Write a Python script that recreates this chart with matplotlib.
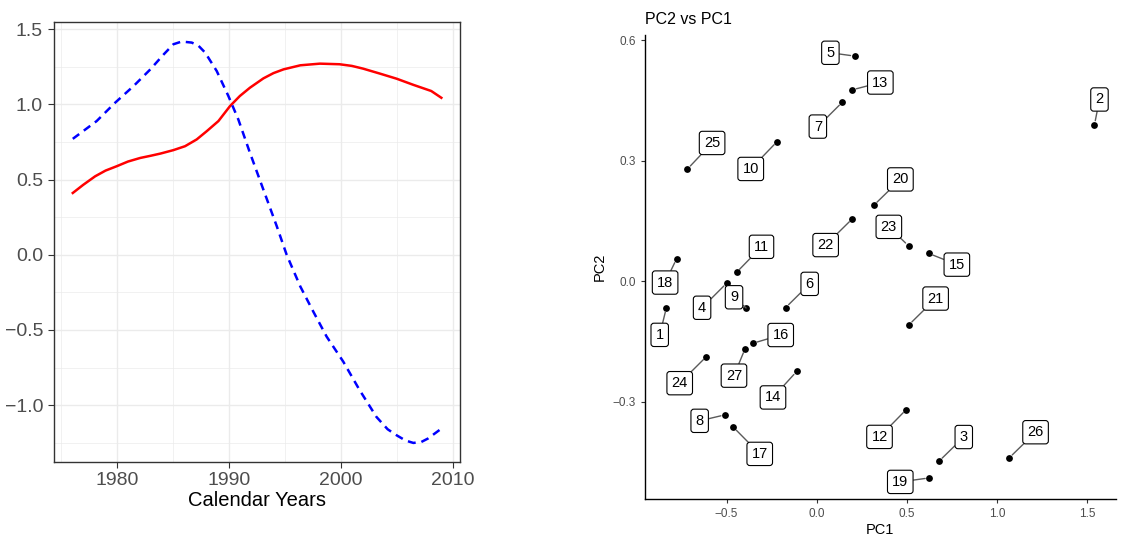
import matplotlib
matplotlib.use("Agg")
import matplotlib.pyplot as plt
from matplotlib.ticker import MultipleLocator

plt.rcParams["font.family"] = ["Liberation Sans", "DejaVu Sans"]

# ---- Left panel data ----
red_years = [1976.07, 1977.0, 1978.07, 1979.0, 1980.0, 1981.0, 1982.1, 1983.0, 1983.9,
             1985.06, 1986.1, 1987.14, 1988.04, 1989.08, 1990.12, 1991.0, 1991.9,
             1993.1, 1994.0, 1994.9, 1996.4, 1998.15, 1999.9, 2001.0, 2002.0, 2003.5,
             2005.0, 2006.5, 2008.1, 2009.0]
red_vals = [0.411, 0.465, 0.522, 0.560, 0.589, 0.620, 0.644, 0.658, 0.673,
            0.696, 0.722, 0.767, 0.822, 0.889, 0.989, 1.056, 1.111,
            1.173, 1.208, 1.233, 1.260, 1.271, 1.267, 1.256, 1.238, 1.205,
            1.171, 1.130, 1.089, 1.044]

blue_years = [1976.07, 1978.2, 1979.85, 1981.5, 1983.0, 1984.2, 1985.06, 1985.8, 1986.7,
              1987.3, 1987.9, 1988.93, 1989.97, 1990.86, 1991.9, 1993.1, 1994.3, 1995.18,
              1996.4, 1997.56, 1998.75, 2000.24, 2001.7, 2003.2, 2004.2, 2005.0, 2005.8,
              2006.5, 2007.2, 2007.8, 2009.0]
blue_vals = [0.771, 0.889, 1.011, 1.122, 1.233, 1.333, 1.400, 1.418, 1.411,
             1.390, 1.344, 1.222, 1.056, 0.900, 0.678, 0.433, 0.189, 0.000,
             -0.211, -0.378, -0.544, -0.711, -0.900, -1.078, -1.160, -1.200, -1.235,
             -1.251, -1.245, -1.222, -1.156]

# ---- Right panel data ----
pc_labels = [str(i) for i in range(1, 28)]
pc1 = [-0.834, 1.542, 0.680, -0.499, 0.211, -0.172, 0.142, -0.509, -0.392, -0.220,
       -0.445, 0.497, 0.198, -0.111, 0.621, -0.355, -0.462, -0.778, 0.625, 0.318,
       0.512, 0.198, 0.510, -0.612, -0.717, 1.069, -0.398]
pc2 = [-0.066, 0.389, -0.448, -0.005, 0.560, -0.066, 0.445, -0.333, -0.067, 0.347,
       0.0215, -0.320, 0.476, -0.225, 0.069, -0.155, -0.364, 0.055, -0.490, 0.189,
       -0.109, 0.155, 0.0876, -0.188, 0.279, -0.440, -0.169]

# label offsets (layout only, in pixels: dx right, dy up)
label_offsets = [(-6.7, -27.3), (5, 25.3), (24.6, 24), (-24.7, -24.7), (-24.3, 3.3),
                 (24, 23.7), (-24.4, -24.3), (-25.3, -6), (-12, 10.7), (-26.3, -27.3),
                 (25, 25.6), (-26.7, -27.3), (28, 7.3), (-23.7, -26), (28.3, -11.3),
                 (28, 8.3), (26.3, -26.6), (-11.4, -23.6), (-29, -4), (26.4, 25.7),
                 (26.7, 26.3), (-26.7, -26.3), (-19.7, 19), (-26.7, -26.6), (24.6, 26),
                 (26.3, 25.6), (-11, -26.7)]

fig = plt.figure(figsize=(11.27, 5.35), dpi=100)

# ---------- Left panel ----------
ax1 = fig.add_axes([0.0475, 0.1364, 0.3605, 0.8225])
ax1.plot(red_years, red_vals, color="red", lw=1.8, solid_joinstyle="round")
ax1.plot(blue_years, blue_vals, color="blue", lw=1.8, dashes=(3.2, 2.3),
         dash_joinstyle="round")
ax1.set_xlim(1974.35, 2010.65)
ax1.set_ylim(-1.378, 1.548)
ax1.xaxis.set_major_locator(MultipleLocator(10))
ax1.xaxis.set_minor_locator(MultipleLocator(5))
ax1.yaxis.set_major_locator(MultipleLocator(0.5))
ax1.yaxis.set_minor_locator(MultipleLocator(0.25))
ax1.grid(which="major", color="#EBEBEB", lw=1.0)
ax1.grid(which="minor", color="#EBEBEB", lw=0.5)
ax1.set_axisbelow(True)
for s in ax1.spines.values():
    s.set_color("#333333")
    s.set_linewidth(1.0)
ax1.tick_params(which="major", direction="out", length=4, width=0.8, color="#333333",
                labelsize=14, labelcolor="#4D4D4D")
ax1.tick_params(which="minor", length=0)
ax1.set_xlabel("Calendar Years", fontsize=14.5, color="black", labelpad=1)

# ---------- Right panel ----------
ax2 = fig.add_axes([0.5723, 0.0673, 0.4177, 0.8673])
ax2.scatter(pc1, pc2, s=24, color="black", zorder=3, linewidths=0)
for lab, x, y, (dx, dy) in zip(pc_labels, pc1, pc2, label_offsets):
    ax2.annotate(lab, xy=(x, y), xytext=(dx, dy), textcoords="offset pixels",
                 ha="center", va="center", fontsize=10.5, color="black",
                 bbox=dict(boxstyle="round,pad=0.32,rounding_size=0.2", fc="white",
                           ec="black", lw=0.8),
                 arrowprops=dict(arrowstyle="-", color="#5a5a5a", lw=1.0,
                                 shrinkA=0, shrinkB=3),
                 zorder=4)
ax2.set_xlim(-0.953, 1.66)
ax2.set_ylim(-0.5425, 0.6125)
ax2.xaxis.set_major_locator(MultipleLocator(0.5))
ax2.set_yticks([-0.3, 0.0, 0.3, 0.6])
ax2.spines["top"].set_visible(False)
ax2.spines["right"].set_visible(False)
for s in ("left", "bottom"):
    ax2.spines[s].set_color("black")
    ax2.spines[s].set_linewidth(1.0)
ax2.tick_params(direction="out", length=3, width=0.8, color="#333333",
                labelsize=8.5, labelcolor="#4D4D4D")
ax2.set_xlabel("PC1", fontsize=10.5, labelpad=2)
ax2.set_ylabel("PC2", fontsize=10.5, labelpad=4)
ax2.set_title("PC2 vs PC1", loc="left", fontsize=11.5, pad=8)

fig.savefig("out.png", dpi=100)
